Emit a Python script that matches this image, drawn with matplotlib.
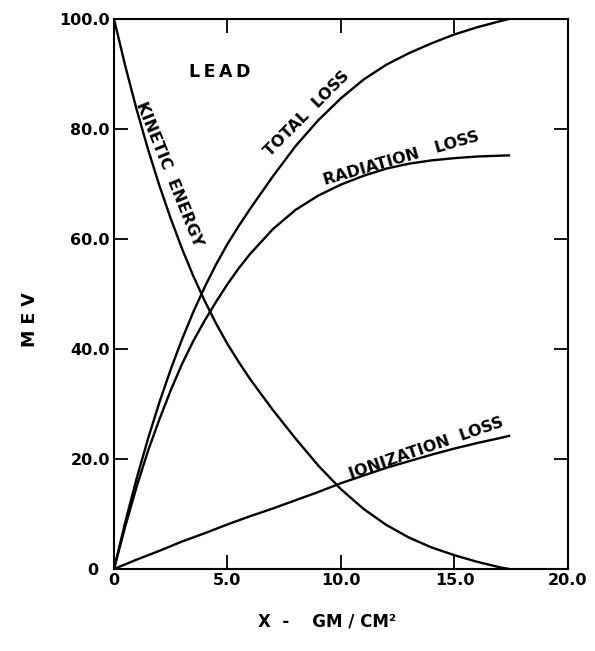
import numpy as np
import matplotlib
matplotlib.use("Agg")
import matplotlib.pyplot as plt
import matplotlib.transforms as mtransforms

# Energy loss of a 100 MeV electron in lead
x_gm = [0, 0.5, 1, 1.5, 2, 2.5, 3, 3.5, 4, 4.5, 5, 5.5, 6, 7, 8, 9, 10,
        11, 12, 13, 14, 15, 16, 17, 17.4]
kinetic = [100, 91.4, 83.5, 76.3, 69.7, 63.7, 58.2, 53.2, 48.7, 44.6, 40.9,
           37.6, 34.5, 28.9, 23.7, 18.8, 14.5, 10.9, 8.0, 5.7, 3.9, 2.5,
           1.3, 0.3, 0]
total_loss = [0, 8.6, 16.5, 23.7, 30.3, 36.3, 41.8, 46.8, 51.3, 55.4, 59.1,
              62.4, 65.5, 71.4, 76.9, 81.6, 85.6, 89.0, 91.7, 93.8, 95.6,
              97.2, 98.5, 99.6, 100]
radiation_loss = [0, 7.8, 15.0, 21.5, 27.2, 32.5, 37.3, 41.5, 45.2, 48.6,
                  51.8, 54.7, 57.3, 61.8, 65.3, 67.9, 69.9, 71.5, 72.8, 73.7,
                  74.3, 74.7, 75.0, 75.15, 75.2]
ionization_loss = [0, 0.85, 1.7, 2.5, 3.3, 4.15, 5.0, 5.75, 6.5, 7.3, 8.1,
                   8.85, 9.6, 11.0, 12.5, 14.0, 15.6, 17.0, 18.4, 19.6, 20.8,
                   21.9, 22.9, 23.8, 24.2]

x_ticks = [0, 5, 10, 15, 20]
x_ticklabels = ["0", "5.0", "10.0", "15.0", "20.0"]
y_ticks = [0, 20, 40, 60, 80, 100]
y_ticklabels = ["0", "20.0", "40.0", "60.0", "80.0", "100.0"]

plt.rcParams['font.family'] = ['DejaVu Sans']
plt.rcParams['font.weight'] = 'bold'

fig = plt.figure(figsize=(5.95, 6.51), dpi=100)
ax = fig.add_axes([0.1916, 0.126, 0.763, 0.8448])

lw = 1.7
ax.plot(x_gm, kinetic, color='black', lw=lw)
ax.plot(x_gm, total_loss, color='black', lw=lw)
ax.plot(x_gm, radiation_loss, color='black', lw=lw)
ax.plot(x_gm, ionization_loss, color='black', lw=lw)

ax.set_xlim(0, 20)
ax.set_ylim(0, 100)

for s in ax.spines.values():
    s.set_linewidth(1.5)

ax.set_xticks(x_ticks)
ax.set_xticklabels(x_ticklabels, fontsize=11.5, fontweight='bold')
ax.set_yticks(y_ticks)
ax.set_yticklabels(y_ticklabels, fontsize=11.5, fontweight='bold')
ax.tick_params(direction='in', length=10, width=1.3, top=True, right=True,
               pad=3)

# the "0" of the y axis sits a bit further left, clear of the x "0"
shift = mtransforms.ScaledTranslation(-8 / 72, 0, fig.dpi_scale_trans)
for lab in ax.get_yticklabels():
    if lab.get_text() == "0":
        lab.set_transform(lab.get_transform() + shift)

# curve labels
ax.text(4.65, 90.3, "L\u2009E\u2009A\u2009D", fontsize=12.5, fontweight='bold',
        ha='center', va='center')
ax.text(2.45, 71.8, "KINETIC  ENERGY", fontsize=11.5, fontweight='bold',
        rotation=-68, ha='center', va='center', rotation_mode='anchor')
ax.text(8.5, 82.7, "TOTAL  LOSS", fontsize=11.5, fontweight='bold',
        rotation=45, ha='center', va='center', rotation_mode='anchor')
ax.text(12.65, 74.6, "RADIATION   LOSS", fontsize=11.5, fontweight='bold',
        rotation=16, ha='center', va='center', rotation_mode='anchor')
ax.text(13.75, 21.9, "IONIZATION  LOSS", fontsize=11.5, fontweight='bold',
        rotation=19, ha='center', va='center', rotation_mode='anchor')

# axis titles
fig.text(30 / 595, 1 - 320 / 651, "M E V", fontsize=12.5, fontweight='bold',
         rotation=90, ha='center', va='center')
fig.text(327 / 595, 1 - 622 / 651, "X  -    GM / CM\u00b2", fontsize=12,
         fontweight='bold', ha='center', va='center')

fig.savefig("out.png", dpi=100)
